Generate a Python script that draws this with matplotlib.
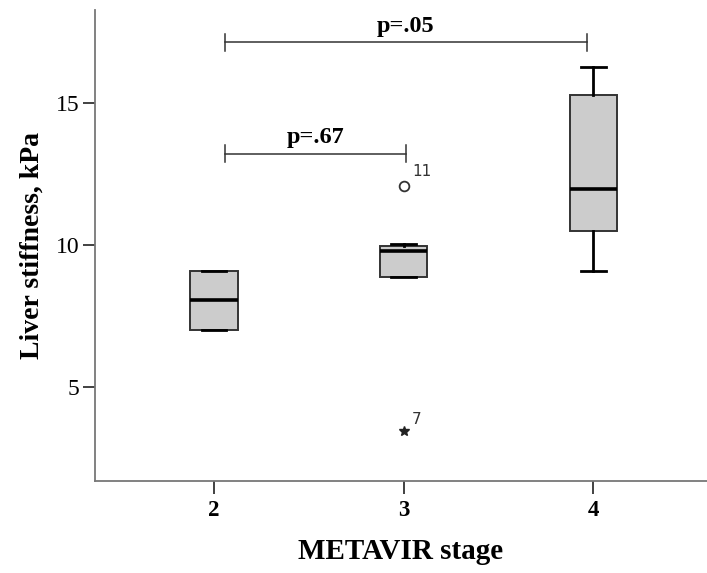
import matplotlib
matplotlib.use("Agg")
import matplotlib.pyplot as plt

# ---- data ----
stages = [2, 3, 4]
q1 = [7.0, 8.88, 10.5]
med = [8.05, 9.78, 11.98]
q3 = [9.1, 9.97, 15.28]
whislo = [7.0, 8.88, 9.08]
whishi = [9.1, 10.02, 16.28]
mild_out_x = [3]
mild_out_y = [12.08]
mild_out_lbl = ["11"]
ext_out_x = [3]
ext_out_y = [3.45]
ext_out_lbl = ["7"]
brackets = [(2.056, 3.01, 13.22, "p=.67"), (2.056, 3.965, 17.13, "p=.05")]
yticks = [5, 10, 15]

serif = "Liberation Serif"

fig = plt.figure(figsize=(7.07, 5.73), dpi=100)
ax = fig.add_axes([0.134, 0.1606, 0.866, 0.822])

stats = []
for i in range(len(stages)):
    stats.append(dict(med=med[i], q1=q1[i], q3=q3[i], whislo=whislo[i],
                      whishi=whishi[i], fliers=[]))
ax.bxp(stats, positions=stages, widths=0.25, patch_artist=True,
       showfliers=False,
       boxprops=dict(facecolor="#cccccc", edgecolor="#333333", linewidth=1.4),
       medianprops=dict(color="black", linewidth=2.6),
       whiskerprops=dict(color="black", linewidth=2.0),
       capprops=dict(color="black", linewidth=2.0),
       capwidths=0.13)

ax.plot(mild_out_x, mild_out_y, linestyle="none", marker="o", markersize=7,
        markerfacecolor="white", markeredgecolor="#333333", markeredgewidth=1.3)
ax.plot(ext_out_x, ext_out_y, linestyle="none", marker="*", markersize=7,
        color="#222222")
for x, y, t in zip(mild_out_x, mild_out_y, mild_out_lbl):
    ax.annotate(t, (x, y), xytext=(6, 7), textcoords="offset points",
                fontsize=11, color="#333333", family="DejaVu Sans")
for x, y, t in zip(ext_out_x, ext_out_y, ext_out_lbl):
    ax.annotate(t, (x, y), xytext=(6, 5), textcoords="offset points",
                fontsize=11, color="#333333", family="DejaVu Sans")

for x0, x1, y, t in brackets:
    ax.plot([x0, x1], [y, y], color="#333333", linewidth=1.1)
    ax.plot([x0, x0], [y - 0.3, y + 0.3], color="#333333", linewidth=1.1)
    ax.plot([x1, x1], [y - 0.3, y + 0.3], color="#333333", linewidth=1.1)
    ax.text((x0 + x1) / 2, y + 0.2, t, ha="center", va="bottom",
            fontsize=17.5, fontweight="bold", family=serif)

ax.set_xlim(1.37, 4.6)
ax.set_ylim(1.7, 18.27)
ax.set_xticks(stages)
ax.set_xticklabels([str(s) for s in stages], fontsize=16.5, fontweight="bold",
                   family=serif)
ax.set_yticks(yticks)
ax.set_yticklabels([str(v) for v in yticks], fontsize=17, family=serif)
ax.tick_params(axis="both", direction="out", length=9, width=1.3,
               color="#333333", pad=2)
ax.tick_params(axis="x", pad=5)

for s in ["top", "right"]:
    ax.spines[s].set_visible(False)
for s in ["left", "bottom"]:
    ax.spines[s].set_color("#777777")
    ax.spines[s].set_linewidth(1.3)

ax.set_xlabel("METAVIR stage", fontsize=21, fontweight="bold", family=serif,
              labelpad=12)
ax.set_ylabel("Liver stiffness, kPa", fontsize=20, fontweight="bold",
              family=serif, labelpad=8)

fig.savefig("out.png", dpi=100)
